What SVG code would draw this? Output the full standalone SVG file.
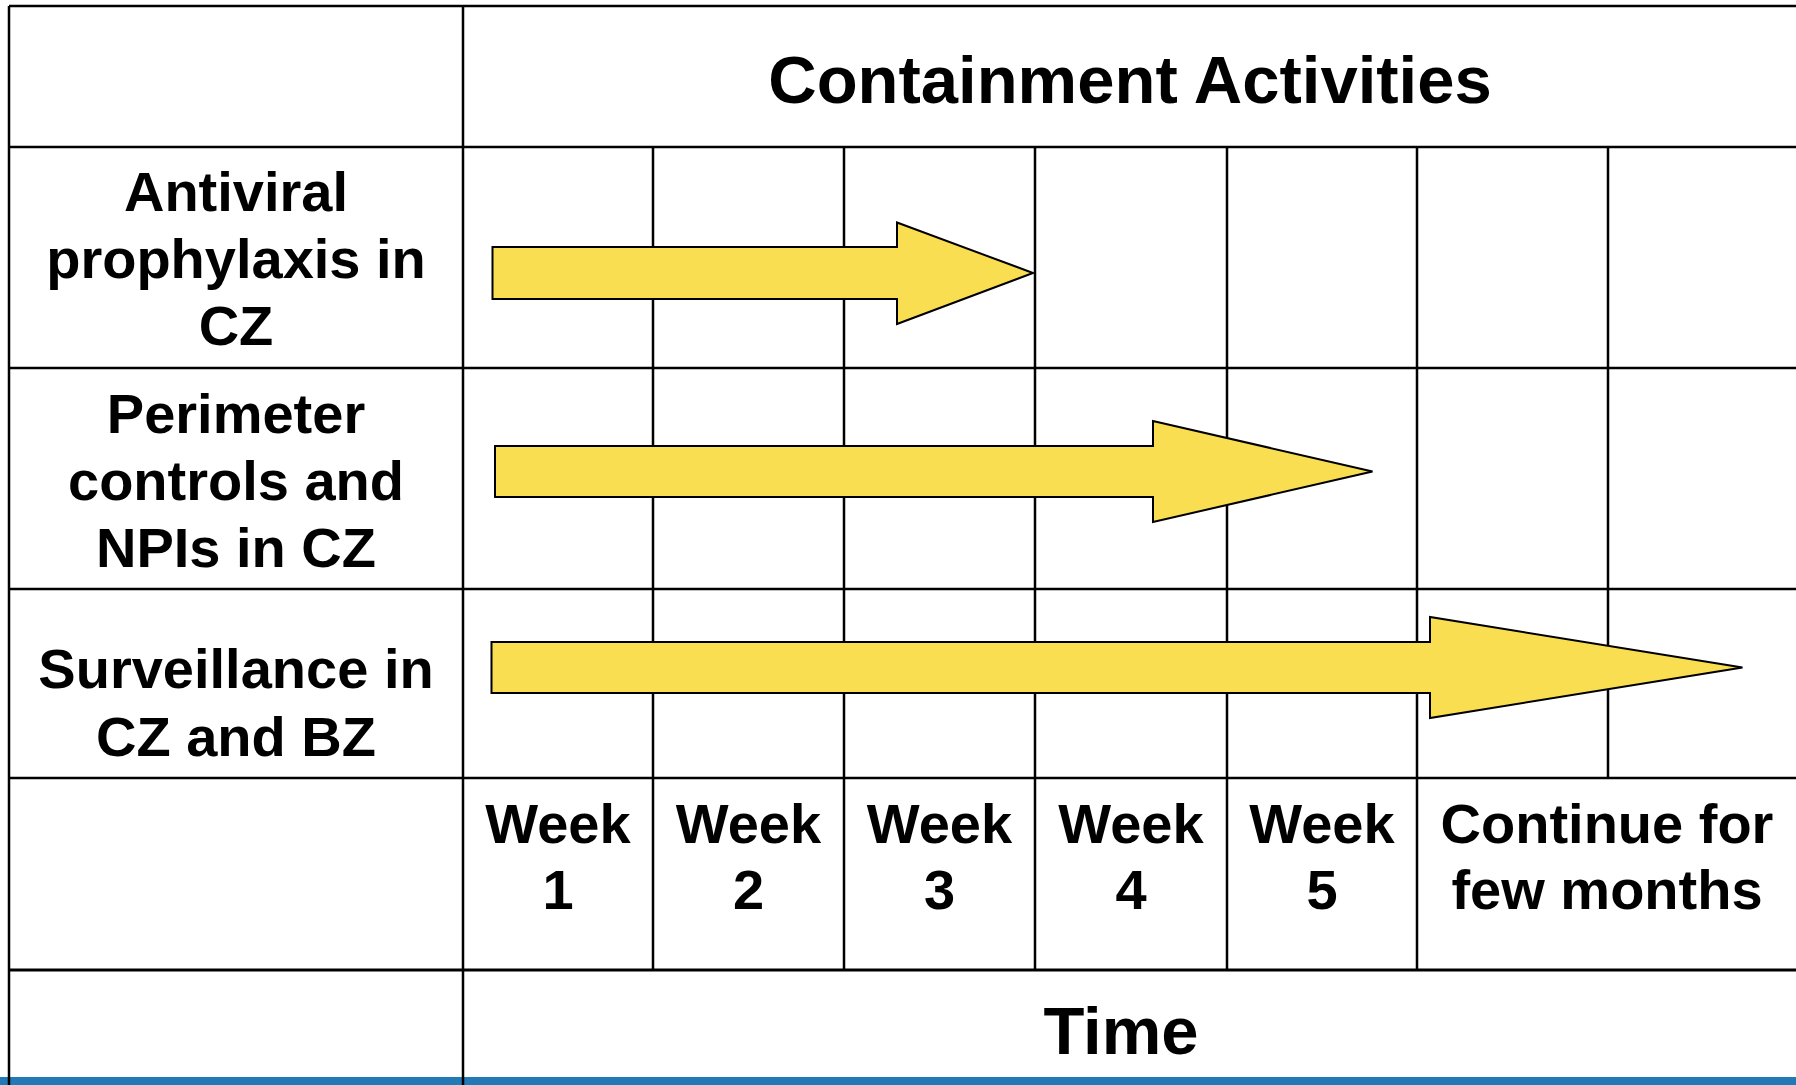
<svg xmlns="http://www.w3.org/2000/svg" width="1796" height="1085" viewBox="0 0 1796 1085">
<style>
.grid{stroke:#000;stroke-width:2.5;fill:none}
.t{font-family:"Liberation Sans",Arial,sans-serif;font-weight:bold;fill:#000;text-anchor:middle}
.lbl{font-size:56px}
.big{font-size:67px}
.arr{fill:#F9DE52;stroke:#000;stroke-width:2;stroke-linejoin:miter}
</style>
<rect x="0" y="0" width="1796" height="1085" fill="#fff"/>
<rect x="0" y="1077" width="1796" height="8" fill="#2279b5"/>
<g id="grid" class="grid">
<line x1="9" y1="6" x2="1796" y2="6"/>
<line x1="9" y1="147" x2="1796" y2="147"/>
<line x1="9" y1="368" x2="1796" y2="368"/>
<line x1="9" y1="589" x2="1796" y2="589"/>
<line x1="9" y1="778" x2="1796" y2="778"/>
<line x1="9" y1="970" x2="1796" y2="970" stroke-width="3"/>
<line x1="9" y1="6" x2="9" y2="1085"/>
<line x1="463" y1="6" x2="463" y2="1085"/>
<line x1="653" y1="147" x2="653" y2="970"/>
<line x1="844" y1="147" x2="844" y2="970"/>
<line x1="1035" y1="147" x2="1035" y2="970"/>
<line x1="1227" y1="147" x2="1227" y2="970"/>
<line x1="1417" y1="147" x2="1417" y2="970"/>
<line x1="1608" y1="147" x2="1608" y2="778"/>
</g>
<g id="title"><text class="t big" x="1130" y="103">Containment Activities</text></g>
<g id="row-antiviral"><text class="t lbl" x="236" y="211">Antiviral</text><text class="t lbl" x="236" y="278">prophylaxis in</text><text class="t lbl" x="236" y="345">CZ</text></g>
<g id="row-perimeter"><text class="t lbl" x="236" y="433">Perimeter</text><text class="t lbl" x="236" y="500">controls and</text><text class="t lbl" x="236" y="567">NPIs in CZ</text></g>
<g id="row-surveillance"><text class="t lbl" x="236" y="688">Surveillance in</text><text class="t lbl" x="236" y="756">CZ and BZ</text></g>
<g id="week1"><text class="t lbl" x="558" y="843">Week</text><text class="t lbl" x="558" y="909">1</text></g>
<g id="week2"><text class="t lbl" x="748.5" y="843">Week</text><text class="t lbl" x="748.5" y="909">2</text></g>
<g id="week3"><text class="t lbl" x="939.5" y="843">Week</text><text class="t lbl" x="939.5" y="909">3</text></g>
<g id="week4"><text class="t lbl" x="1131" y="843">Week</text><text class="t lbl" x="1131" y="909">4</text></g>
<g id="week5"><text class="t lbl" x="1322" y="843">Week</text><text class="t lbl" x="1322" y="909">5</text></g>
<g id="continue"><text class="t lbl" x="1607" y="843">Continue for</text><text class="t lbl" x="1607" y="909">few months</text></g>
<g id="time"><text class="t big" x="1121" y="1054">Time</text></g>
<g id="connectors">
<polygon class="arr" points="492.5,247 897,247 897,222.5 1033,273 897,324 897,299 492.5,299"/>
<polygon class="arr" points="495,446 1153,446 1153,421 1372.5,471.5 1153,522 1153,497 495,497"/>
<polygon class="arr" points="491.5,642 1430,642 1430,617 1742.5,667.5 1430,718 1430,693 491.5,693"/>
</g>
</svg>
